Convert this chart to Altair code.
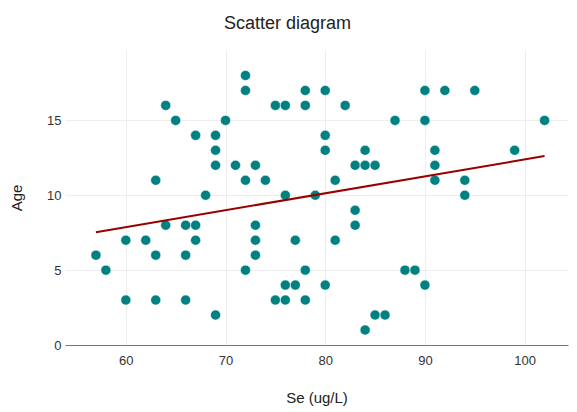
import altair as alt
import pandas as pd

se = [57, 58, 60, 60, 62, 63, 63, 63, 64, 64, 65, 66, 66, 66, 67, 67, 67, 68,
      69, 69, 69, 69, 70, 71, 72, 72, 72, 72, 73, 73, 73, 73, 74, 75, 75,
      76, 76, 76, 76, 77, 77, 78, 78, 78, 78, 79, 80, 80, 80, 80, 81, 81, 82,
      83, 83, 83, 84, 84, 84, 85, 85, 86, 87, 88, 89, 90, 90, 90, 91, 91, 91,
      92, 94, 94, 95, 99, 102]
age = [6, 5, 7, 3, 7, 11, 6, 3, 16, 8, 15, 8, 6, 3, 14, 8, 7, 10,
       14, 13, 12, 2, 15, 12, 18, 17, 11, 5, 12, 8, 7, 6, 11, 16, 3,
       16, 10, 4, 3, 7, 4, 17, 16, 5, 3, 10, 17, 14, 13, 4, 11, 7, 16,
       12, 9, 8, 13, 12, 1, 12, 2, 2, 15, 5, 5, 17, 15, 4, 13, 12, 11,
       17, 11, 10, 17, 13, 15]

df = pd.DataFrame({"Se": se, "Age": age})

font = "Liberation Sans"

x = alt.X("Se:Q", title="Se (ug/L)",
          scale=alt.Scale(domain=[53.9, 104.35], nice=False, zero=False),
          axis=alt.Axis(values=[60, 70, 80, 90, 100], tickSize=0, labelPadding=9,
                        titlePadding=23, grid=True, gridColor="#eeeeee",
                        domainColor="#777777", domainWidth=1.2))
y = alt.Y("Age:Q", title="Age",
          scale=alt.Scale(domain=[0, 19.7], nice=False),
          axis=alt.Axis(values=[0, 5, 10, 15], tickSize=0, labelPadding=4,
                        titlePadding=22, grid=True, gridColor="#eeeeee",
                        domain=False))

base = alt.Chart(df)
points = base.mark_circle(size=100, color="#008080", opacity=1,
                          stroke="white", strokeWidth=0.5).encode(x=x, y=y)
line = base.transform_regression("Se", "Age").mark_line(
    color="#990000", strokeWidth=2).encode(x=x, y=y)

chart = (points + line).properties(
    width=503, height=295,
    title=alt.Title("Scatter diagram", fontSize=18, font=font, fontWeight="normal",
                    color="#222222", anchor="middle", dx=-29, offset=17),
    autosize=alt.AutoSizeParams(type="none"),
    padding={"left": 57, "top": 42, "right": 1, "bottom": 62},
).configure_axis(
    labelFont=font, labelFontSize=13, labelColor="#333333",
    titleFont=font, titleFontSize=15, titleFontWeight="normal", titleColor="#222222",
).configure_view(stroke=None)

chart.save("out.html", embed_options={"renderer": "svg", "actions": False})
